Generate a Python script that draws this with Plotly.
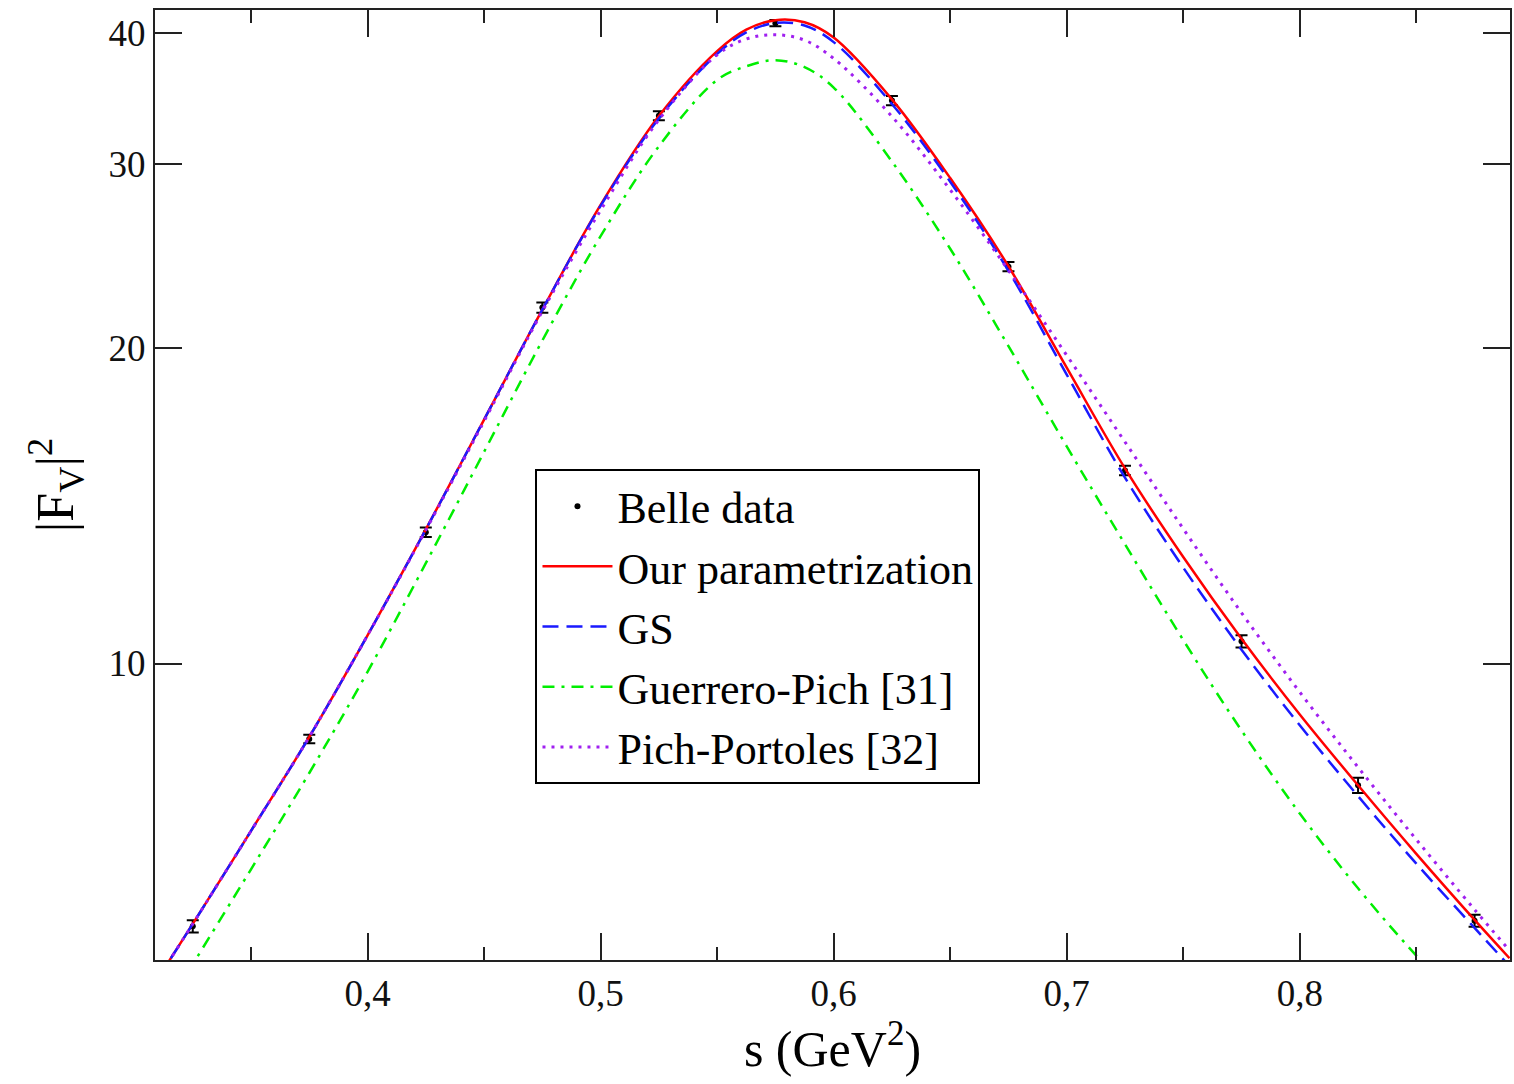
import plotly.graph_objects as go

# ---- data ----
s_data = [0.325, 0.375, 0.425, 0.475, 0.525, 0.575, 0.625, 0.675, 0.725, 0.775, 0.825, 0.875]
F_data = [5.61, 8.47, 13.35, 21.88, 33.37, 40.9, 34.5, 23.94, 15.29, 10.5, 7.65, 5.68]
F_err = [0.075, 0.08, 0.14, 0.25, 0.33, 0.28, 0.35, 0.24, 0.16, 0.14, 0.13, 0.075]

s_curve = [0.31, 0.325, 0.35, 0.375, 0.40, 0.425, 0.45, 0.475, 0.50, 0.525, 0.55, 0.5625,
           0.575, 0.5875, 0.60, 0.625, 0.65, 0.675, 0.70, 0.725, 0.75, 0.775, 0.80, 0.825,
           0.85, 0.875, 0.89]
F_ours = [5.00, 5.64, 6.92, 8.51, 10.64, 13.43, 17.10, 21.78, 27.42, 33.34, 38.46, 40.32,
          41.17, 40.98, 39.63, 34.59, 29.09, 23.96, 19.17, 15.36, 12.64, 10.56, 8.94, 7.65,
          6.58, 5.69, 5.23]
F_gs = [5.00, 5.64, 6.92, 8.51, 10.64, 13.43, 17.10, 21.78, 27.37, 33.17, 38.23, 40.08,
        40.92, 40.69, 39.23, 34.24, 28.86, 23.72, 18.88, 15.05, 12.35, 10.31, 8.73, 7.47,
        6.44, 5.59, 5.14]
F_gp = [4.55, 5.16, 6.36, 7.86, 9.82, 12.47, 15.93, 20.35, 25.60, 31.20, 36.10, 37.20,
        37.70, 37.13, 35.50, 30.17, 24.90, 20.10, 16.12, 13.00, 10.53, 8.63, 7.19, 6.10,
        5.26, 4.60, 4.30]
F_pp = [5.00, 5.64, 6.92, 8.51, 10.64, 13.41, 17.04, 21.70, 27.10, 33.07, 38.15, 39.50,
        39.87, 39.40, 37.84, 33.31, 28.35, 23.75, 19.70, 16.28, 13.45, 11.18, 9.39, 7.96,
        6.79, 5.82, 5.32]

x_ticks = [0.4, 0.5, 0.6, 0.7, 0.8]
x_ticktext = ["0,4", "0,5", "0,6", "0,7", "0,8"]
x_minor = [0.35, 0.45, 0.55, 0.65, 0.75, 0.85]
y_ticks = [10, 20, 30, 40]

FONT = "Liberation Serif, Times New Roman, serif"

fig = go.Figure()

fig.add_trace(go.Scatter(
    x=s_data, y=F_data, mode="markers", name="Belle data",
    marker=dict(color="black", size=6),
    error_y=dict(type="data", array=F_err, visible=True, color="black", thickness=2, width=6),
))
fig.add_trace(go.Scatter(
    x=s_curve, y=F_ours, mode="lines", name="Our parametrization",
    line=dict(color="#ff0000", width=2.5, shape="spline", smoothing=1.0),
))
fig.add_trace(go.Scatter(
    x=s_curve, y=F_gs, mode="lines", name="GS",
    line=dict(color="#1a1aff", width=2.5, dash="16px,8px", shape="spline", smoothing=1.0),
))
fig.add_trace(go.Scatter(
    x=s_curve, y=F_gp, mode="lines", name="Guerrero-Pich [31]",
    line=dict(color="#00ee00", width=2.5, dash="12px,7px,3px,7px", shape="spline", smoothing=1.0),
))
fig.add_trace(go.Scatter(
    x=s_curve, y=F_pp, mode="lines", name="Pich-Portoles [32]",
    line=dict(color="#a020f0", width=3, dash="3px,6px", shape="spline", smoothing=1.0),
))

axis_common = dict(
    showline=True, linecolor="#222222", linewidth=2, mirror="allticks",
    ticks="inside", ticklen=27, tickwidth=2, tickcolor="#222222",
    showgrid=False, zeroline=False,
    tickfont=dict(family=FONT, size=37, color="#111111"),
)

fig.update_xaxes(
    **axis_common,
    range=[0.3088, 0.8902],
    tickmode="array", tickvals=x_ticks, ticktext=x_ticktext,
    minor=dict(tickmode="array", tickvals=x_minor, ticklen=13, tickwidth=2,
               tickcolor="#222222", ticks="inside"),
    title=dict(text="s (GeV<sup>2</sup>)", font=dict(family=FONT, size=50, color="black"),
               standoff=10),
)
fig.update_yaxes(
    **axis_common,
    type="log",
    range=[0.7168, 1.6243],
    tickmode="array", tickvals=y_ticks, ticktext=[str(v) for v in y_ticks],
    title=dict(text="|F<sub>V</sub>|<sup>2</sup>", font=dict(family=FONT, size=52, color="black"),
               standoff=18),
)

fig.update_layout(
    width=1514, height=1084,
    margin=dict(l=155, r=2, t=10, b=124),
    paper_bgcolor="white", plot_bgcolor="white",
    font=dict(family=FONT, color="black"),
    legend=dict(
        x=0.2808, y=0.5168, xanchor="left", yanchor="top",
        bgcolor="white", bordercolor="black", borderwidth=2,
        font=dict(family=FONT, size=44, color="black"),
        itemwidth=70, tracegroupgap=0,
    ),
    showlegend=True,
)

fig.write_html(
    "out.html",
    config={"displayModeBar": False},
    post_script="document.body.style.margin='0';document.body.style.overflow='hidden';",
)
